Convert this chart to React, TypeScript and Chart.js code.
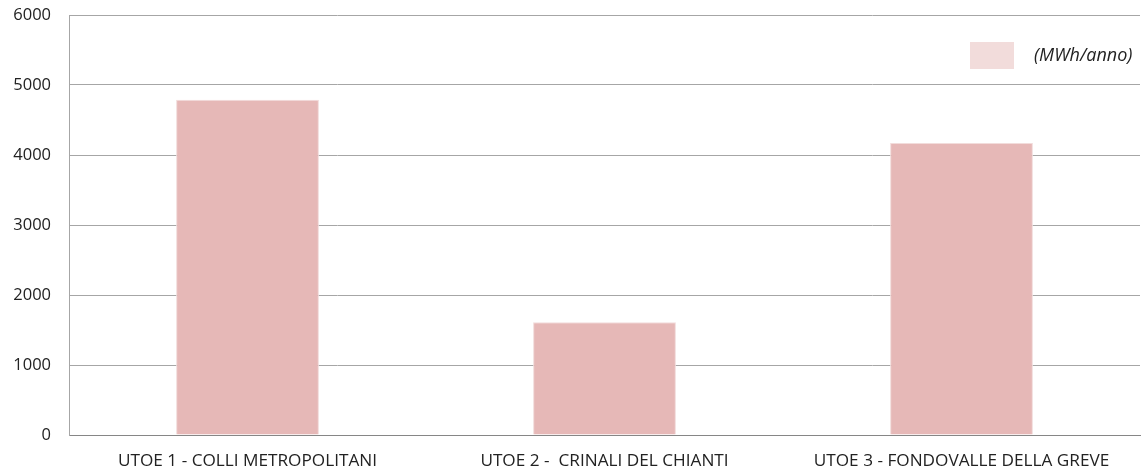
import React, { useEffect, useRef } from "react";
import { Chart, registerables } from "chart.js";

Chart.register(...registerables);

const categories = [
  "UTOE 1 - COLLI METROPOLITANI",
  "UTOE 2 -  CRINALI DEL CHIANTI",
  "UTOE 3 - FONDOVALLE DELLA GREVE",
];
const seriesLabel = "(MWh/anno)";
const values = [4790, 1610, 4170];
const yTicks = [0, 1000, 2000, 3000, 4000, 5000, 6000];

const FONT = "'Open Sans', 'Noto Sans', sans-serif";

const legendPlugin = {
  id: "insideLegend",
  afterDraw(chart: any) {
    const { ctx, chartArea } = chart;
    const label = chart.data.datasets[0].label;
    ctx.save();
    ctx.fillStyle = "#f2dcdb";
    const boxX = chartArea.right - 170;
    const boxY = chartArea.top + 27;
    ctx.fillRect(boxX, boxY, 44, 27);
    ctx.fillStyle = "#222222";
    ctx.font = "italic 18px " + FONT;
    ctx.textBaseline = "middle";
    ctx.textAlign = "left";
    ctx.fillText(label, boxX + 64, boxY + 14);
    ctx.restore();
  },
};

export default function App() {
  const ref = useRef<HTMLCanvasElement>(null);
  useEffect(() => {
    const chart = new Chart(ref.current!, {
      type: "bar",
      data: {
        labels: categories,
        datasets: [
          {
            label: seriesLabel,
            data: values,
            backgroundColor: "#e6b8b7",
            borderColor: "#f2dcdb",
            borderWidth: 1,
            categoryPercentage: 1,
            barPercentage: 0.4,
          },
        ],
      },
      options: {
        animation: false,
        responsive: true,
        maintainAspectRatio: false,
        layout: { padding: { top: 15, right: 8, left: 0, bottom: 0 } },
        plugins: {
          legend: { display: false },
          tooltip: { enabled: false },
        },
        scales: {
          x: {
            grid: { display: false, drawTicks: false },
            border: { color: "#868686", width: 1 },
            ticks: {
              color: "#222222",
              font: { family: FONT, size: 17.2 },
              padding: 16,
              maxRotation: 0,
            },
            afterFit(scale: any) {
              scale.height = 40;
              scale.paddingLeft = 0;
              scale.paddingRight = 0;
            },
          },
          y: {
            min: 0,
            max: 6000,
            afterBuildTicks(scale: any) {
              scale.ticks = yTicks.map((v) => ({ value: v }));
            },
            grid: { color: "#a6a6a6", drawTicks: false, lineWidth: 1 },
            border: { color: "#a6a6a6", width: 1 },
            ticks: {
              color: "#222222",
              font: { family: FONT, size: 16.5 },
              padding: 18,
              callback: (v: any) => String(v),
            },
            afterFit(scale: any) {
              scale.width = 69;
              scale.paddingTop = 0;
              scale.paddingBottom = 0;
            },
          },
        },
      },
      plugins: [legendPlugin],
    });
    return () => chart.destroy();
  }, []);
  return (
    <div style={{ position: "fixed", left: 0, top: 0, width: 1148, height: 475 }}>
      <canvas ref={ref} />
    </div>
  );
}
